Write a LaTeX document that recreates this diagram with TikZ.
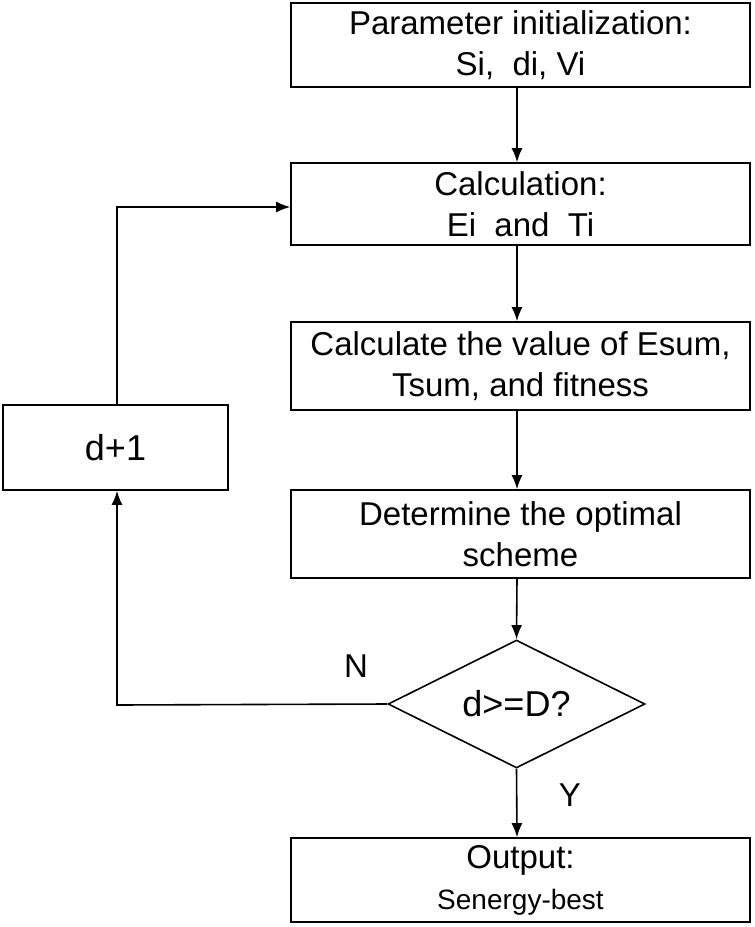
\documentclass[tikz,border=0pt]{standalone}
\usepackage{fontspec}
\setmainfont{Liberation Sans}
\usetikzlibrary{shapes.geometric,arrows.meta}
\begin{document}
\begin{tikzpicture}[x=1pt,y=-1pt,
  box/.style={draw,line width=1.6pt,rectangle,align=center,inner sep=0pt,
    font=\fontsize{33}{41}\selectfont},
  conn/.style={line width=1.6pt,-{Latex[length=14pt,width=11pt]}},
  lbl/.style={font=\fontsize{33}{36}\selectfont}]
\path[use as bounding box] (0,0) rectangle (755,927);
\node[box,minimum width=459pt,minimum height=84pt] (b1) at (520.5,45) {Parameter initialization:\\Si,\ \ di, Vi};
\node[box,minimum width=459pt,minimum height=82pt] (b2) at (520.5,204) {Calculation:\\Ei\ \ and\ \ Ti};
\node[box,minimum width=459pt,minimum height=88pt] (b3) at (520.5,366) {Calculate the value of Esum,\\Tsum, and fitness};
\node[box,minimum width=459pt,minimum height=88pt] (b4) at (520.5,534) {Determine the optimal\\scheme};
\node[draw,line width=1.6pt,diamond,aspect=2,minimum width=257pt,minimum height=128pt,inner sep=0pt,
  font=\fontsize{36}{40}\selectfont] (dia) at (516.5,704) {d>=D?};
\node[box,minimum width=459pt,minimum height=84pt] (b5) at (520.5,880) {Output:\\{\fontsize{28}{41}\selectfont Senergy-best}};
\node[box,minimum width=225pt,minimum height=85pt,font=\fontsize{36}{40}\selectfont] (inc) at (115.5,447.5) {d+1};
\coordinate (c1) at (117,207);
\coordinate (c2) at (117,705);
\draw[conn] (b1.south -| 517,0) -- (b2.north -| 517,0);
\draw[conn] (b2.south -| 517,0) -- (b3.north -| 517,0);
\draw[conn] (b3.south -| 517,0) -- (b4.north -| 517,0);
\draw[conn] (b4.south -| 517,0) -- (dia.north);
\draw[conn] (dia.south) -- (b5.north -| 517,0);
\draw[conn] (dia.west) -- (c2) -- (inc.south -| c2);
\draw[conn] (inc.north -| c1) -- (c1) -- (b2.west |- c1);
\node[lbl] (n) at (356,666) {N};
\node[lbl] (y) at (570,795) {Y};
\end{tikzpicture}
\end{document}
